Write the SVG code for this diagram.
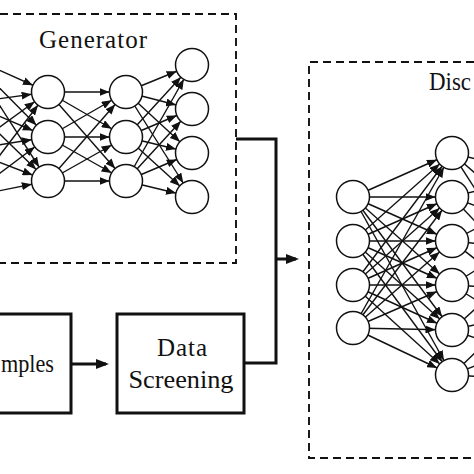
<svg xmlns="http://www.w3.org/2000/svg" width="474" height="474" viewBox="0 0 474 474">
<defs>
<style>
.e{stroke:#111;stroke-width:1.4;fill:none;marker-end:url(#ah)}
.s{stroke:#111;stroke-width:1.4;fill:none}
.n{fill:#fff;stroke:#111;stroke-width:1.5}
.dash{fill:none;stroke:#111;stroke-width:1.9;stroke-dasharray:8 5}
.box{fill:#fff;stroke:#111;stroke-width:3}
.c{fill:none;stroke:#111;stroke-width:3}
.t{font-family:"Liberation Serif","Times New Roman",serif;font-size:25px;fill:#111}
</style>
<marker id="ah" markerUnits="userSpaceOnUse" markerWidth="30" markerHeight="8" refX="26.5" refY="4" orient="auto"><path d="M0,0 L10,4 L0,8 z" fill="#111"/></marker>
<marker id="ab" markerUnits="userSpaceOnUse" markerWidth="13" markerHeight="10" refX="10" refY="5" orient="auto"><path d="M0,0 L13,5 L0,10 z" fill="#111"/></marker>
</defs>
<rect width="474" height="474" fill="#fff"/>

<g id="connectors">
<g id="gen-in-l1">
<line class="e" x1="-32" y1="56" x2="48" y2="92"/><line class="e" x1="-32" y1="56" x2="48" y2="137"/><line class="e" x1="-32" y1="56" x2="48" y2="181"/>
<line class="e" x1="-32" y1="103" x2="48" y2="92"/><line class="e" x1="-32" y1="103" x2="48" y2="137"/><line class="e" x1="-32" y1="103" x2="48" y2="181"/>
<line class="e" x1="-32" y1="150" x2="48" y2="92"/><line class="e" x1="-32" y1="150" x2="48" y2="137"/><line class="e" x1="-32" y1="150" x2="48" y2="181"/>
<line class="e" x1="-32" y1="197" x2="48" y2="92"/><line class="e" x1="-32" y1="197" x2="48" y2="137"/><line class="e" x1="-32" y1="197" x2="48" y2="181"/>
</g>
<g id="gen-l1-l2">
<line class="e" x1="48" y1="92" x2="126" y2="92"/><line class="e" x1="48" y1="92" x2="126" y2="137"/><line class="e" x1="48" y1="92" x2="126" y2="181"/>
<line class="e" x1="48" y1="137" x2="126" y2="92"/><line class="e" x1="48" y1="137" x2="126" y2="137"/><line class="e" x1="48" y1="137" x2="126" y2="181"/>
<line class="e" x1="48" y1="181" x2="126" y2="92"/><line class="e" x1="48" y1="181" x2="126" y2="137"/><line class="e" x1="48" y1="181" x2="126" y2="181"/>
</g>
<g id="gen-l2-l3">
<line class="e" x1="126" y1="92" x2="192" y2="65"/><line class="e" x1="126" y1="92" x2="192" y2="109"/><line class="e" x1="126" y1="92" x2="192" y2="153"/><line class="e" x1="126" y1="92" x2="192" y2="197"/>
<line class="e" x1="126" y1="137" x2="192" y2="65"/><line class="e" x1="126" y1="137" x2="192" y2="109"/><line class="e" x1="126" y1="137" x2="192" y2="153"/><line class="e" x1="126" y1="137" x2="192" y2="197"/>
<line class="e" x1="126" y1="181" x2="192" y2="65"/><line class="e" x1="126" y1="181" x2="192" y2="109"/><line class="e" x1="126" y1="181" x2="192" y2="153"/><line class="e" x1="126" y1="181" x2="192" y2="197"/>
</g>
<g id="dis-a-b">
<line class="e" x1="353" y1="197" x2="452" y2="153"/><line class="e" x1="353" y1="197" x2="452" y2="197"/><line class="e" x1="353" y1="197" x2="452" y2="241"/><line class="e" x1="353" y1="197" x2="452" y2="285"/><line class="e" x1="353" y1="197" x2="452" y2="330"/><line class="e" x1="353" y1="197" x2="452" y2="375"/>
<line class="e" x1="353" y1="241" x2="452" y2="153"/><line class="e" x1="353" y1="241" x2="452" y2="197"/><line class="e" x1="353" y1="241" x2="452" y2="241"/><line class="e" x1="353" y1="241" x2="452" y2="285"/><line class="e" x1="353" y1="241" x2="452" y2="330"/><line class="e" x1="353" y1="241" x2="452" y2="375"/>
<line class="e" x1="353" y1="285" x2="452" y2="153"/><line class="e" x1="353" y1="285" x2="452" y2="197"/><line class="e" x1="353" y1="285" x2="452" y2="241"/><line class="e" x1="353" y1="285" x2="452" y2="285"/><line class="e" x1="353" y1="285" x2="452" y2="330"/><line class="e" x1="353" y1="285" x2="452" y2="375"/>
<line class="e" x1="353" y1="328" x2="452" y2="153"/><line class="e" x1="353" y1="328" x2="452" y2="197"/><line class="e" x1="353" y1="328" x2="452" y2="241"/><line class="e" x1="353" y1="328" x2="452" y2="285"/><line class="e" x1="353" y1="328" x2="452" y2="330"/><line class="e" x1="353" y1="328" x2="452" y2="375"/>
</g>
<g id="dis-b-out">
<line class="s" x1="452" y1="153" x2="540" y2="175"/><line class="s" x1="452" y1="153" x2="540" y2="230"/><line class="s" x1="452" y1="153" x2="540" y2="290"/>
<line class="s" x1="452" y1="197" x2="540" y2="175"/><line class="s" x1="452" y1="197" x2="540" y2="230"/><line class="s" x1="452" y1="197" x2="540" y2="290"/>
<line class="s" x1="452" y1="241" x2="540" y2="195"/><line class="s" x1="452" y1="241" x2="540" y2="250"/><line class="s" x1="452" y1="241" x2="540" y2="310"/>
<line class="s" x1="452" y1="285" x2="540" y2="230"/><line class="s" x1="452" y1="285" x2="540" y2="290"/><line class="s" x1="452" y1="285" x2="540" y2="340"/>
<line class="s" x1="452" y1="330" x2="540" y2="250"/><line class="s" x1="452" y1="330" x2="540" y2="310"/><line class="s" x1="452" y1="330" x2="540" y2="360"/>
<line class="s" x1="452" y1="375" x2="540" y2="290"/><line class="s" x1="452" y1="375" x2="540" y2="340"/><line class="s" x1="452" y1="375" x2="540" y2="380"/>
</g>
<g id="flow">
<path class="c" d="M71,364 H106" marker-end="url(#ab)"/>
<path class="c" d="M236,139 H276 V363 H244"/>
<path class="c" d="M276,259 H296" marker-end="url(#ab)"/>
</g>
</g>

<g id="generator">
<path class="dash" d="M0,14 H236 V263 H0"/>
<text class="t" x="93" y="48" text-anchor="middle" textLength="108" lengthAdjust="spacing">Generator</text>
<g id="g-l1-1"><circle class="n" cx="48" cy="92" r="16.5"/></g>
<g id="g-l1-2"><circle class="n" cx="48" cy="137" r="16.5"/></g>
<g id="g-l1-3"><circle class="n" cx="48" cy="181" r="16.5"/></g>
<g id="g-l2-1"><circle class="n" cx="126" cy="92" r="16.5"/></g>
<g id="g-l2-2"><circle class="n" cx="126" cy="137" r="16.5"/></g>
<g id="g-l2-3"><circle class="n" cx="126" cy="181" r="16.5"/></g>
<g id="g-l3-1"><circle class="n" cx="192" cy="65" r="16.5"/></g>
<g id="g-l3-2"><circle class="n" cx="192" cy="109" r="16.5"/></g>
<g id="g-l3-3"><circle class="n" cx="192" cy="153" r="16.5"/></g>
<g id="g-l3-4"><circle class="n" cx="192" cy="197" r="16.5"/></g>
</g>

<g id="discriminator">
<path class="dash" d="M474,62 H309 V458 H474"/>
<text class="t" x="429" y="90" textLength="42" lengthAdjust="spacingAndGlyphs">Disc</text>
<g id="d-a-1"><circle class="n" cx="353" cy="197" r="16.5"/></g>
<g id="d-a-2"><circle class="n" cx="353" cy="241" r="16.5"/></g>
<g id="d-a-3"><circle class="n" cx="353" cy="285" r="16.5"/></g>
<g id="d-a-4"><circle class="n" cx="353" cy="328" r="16.5"/></g>
<g id="d-b-1"><circle class="n" cx="452" cy="153" r="16.5"/></g>
<g id="d-b-2"><circle class="n" cx="452" cy="197" r="16.5"/></g>
<g id="d-b-3"><circle class="n" cx="452" cy="241" r="16.5"/></g>
<g id="d-b-4"><circle class="n" cx="452" cy="285" r="16.5"/></g>
<g id="d-b-5"><circle class="n" cx="452" cy="330" r="16.5"/></g>
<g id="d-b-6"><circle class="n" cx="452" cy="375" r="16.5"/></g>
</g>

<g id="samples">
<path class="c" d="M-2,314 H71 V413 H-2"/>
<text class="t" x="1" y="372" textLength="53" lengthAdjust="spacingAndGlyphs">mples</text>
</g>

<g id="data-screening">
<rect class="box" x="117" y="314" width="127" height="99"/>
<text class="t" x="182" y="356" text-anchor="middle" textLength="50" lengthAdjust="spacing">Data</text>
<text class="t" x="181" y="388" text-anchor="middle" textLength="105" lengthAdjust="spacingAndGlyphs">Screening</text>
</g>
</svg>
